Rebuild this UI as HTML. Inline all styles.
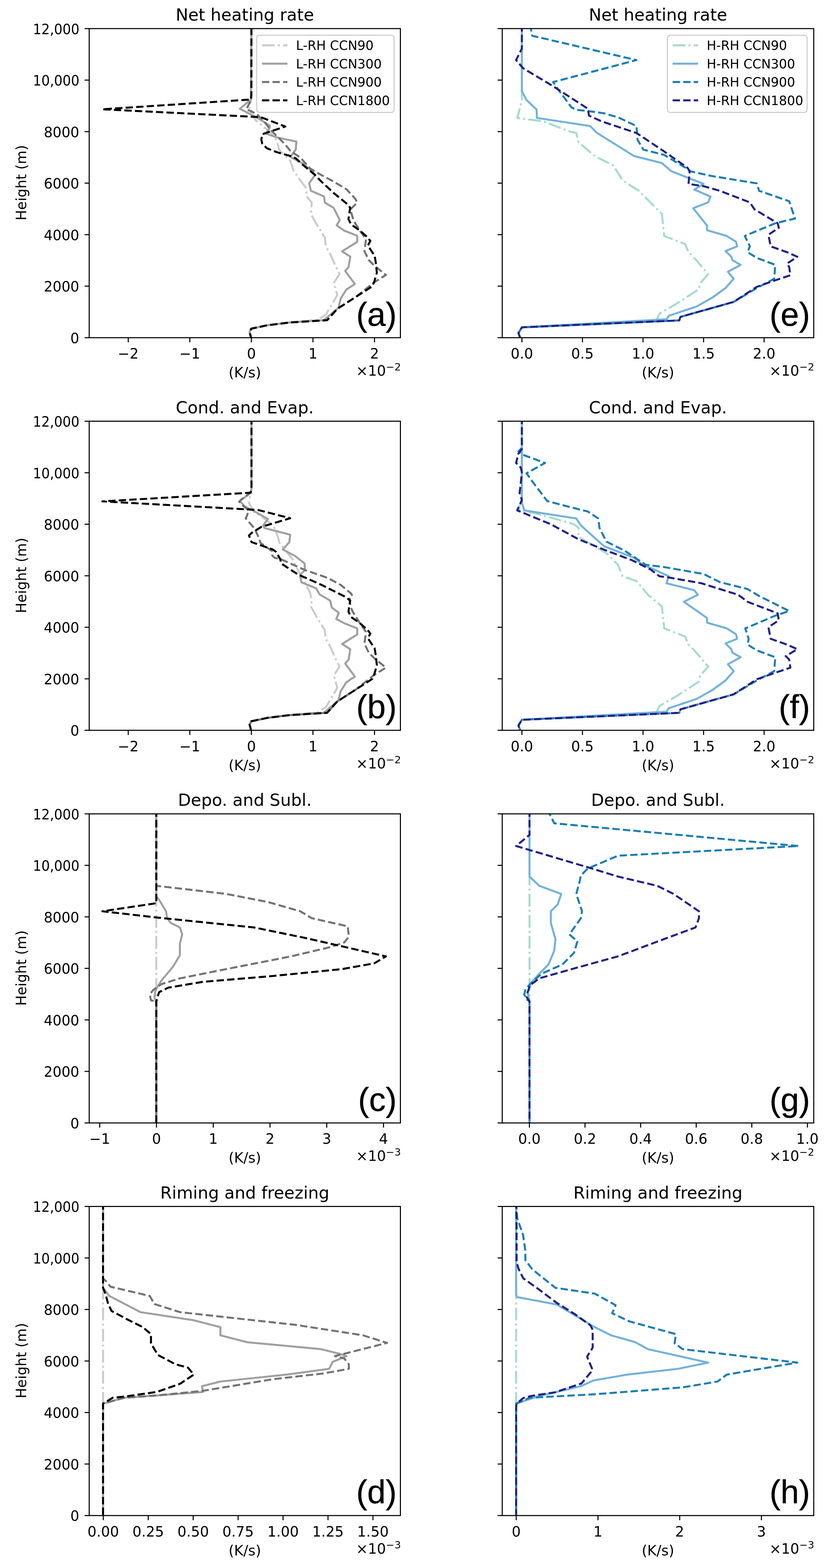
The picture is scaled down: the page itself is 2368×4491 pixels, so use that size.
<!DOCTYPE html>
<html><head><meta charset="utf-8"><title>Heating rate profiles</title>
<style>html,body{margin:0;padding:0;background:#fff;overflow:hidden;} svg{display:block;} text{font-family:'DejaVu Sans', 'Liberation Sans', sans-serif;fill:#000;}</style>
</head><body>
<svg width="2368" height="4491" viewBox="0 0 2368 4491">
<rect width="2368" height="4491" fill="#fff"/>
<g id="axa">
<clipPath id="clipa"><rect x="255.4" y="81.9" width="891.1" height="885.3"/></clipPath>
<g clip-path="url(#clipa)" fill="none" stroke-width="5.7" stroke-linejoin="round" stroke-linecap="butt">
<path d="M719.8,80.0 L719.5,285.0 L712.8,315.5 L731.9,344.2 L774.0,378.7 L793.2,403.6 L799.0,428.5 L831.5,461.0 L841.0,489.8 L862.6,520.0 L877.6,540.1 L877.6,562.6 L892.7,580.2 L890.2,612.7 L905.2,640.2 L930.2,680.3 L932.7,705.3 L946.3,729.2 L959.2,758.3 L972.2,784.3 L956.0,810.2 L965.7,845.8 L946.3,878.2 L933.3,900.9 L910.6,915.5 L829.6,923.6 L764.8,931.7 L719.4,941.4 L714.6,951.1 L717.8,962.5 L718.0,969.0" stroke="#cbcbcb" stroke-dasharray="36.5 9.1 5.7 9.1"/>
<path d="M719.8,80.0 L718.5,284.9 L686.9,311.7 L731.9,334.7 L751.0,346.2 L772.1,359.6 L772.0,367.2 L760.6,382.5 L795.0,394.0 L848.7,405.5 L846.8,428.5 L831.5,449.5 L870.0,470.0 L902.7,500.0 L885.2,525.1 L890.2,546.4 L927.7,562.6 L930.2,580.2 L955.3,595.2 L972.8,630.2 L964.0,645.2 L985.3,660.3 L1022.9,675.3 L1022.9,692.8 L979.5,720.0 L1003.0,735.0 L998.1,764.8 L988.4,776.1 L1016.0,813.4 L991.6,829.6 L975.4,855.5 L969.0,881.5 L946.3,900.9 L926.8,917.1 L829.6,923.6 L764.8,931.7 L719.4,941.4 L714.6,951.1 L717.8,962.5 L718.0,969.0" stroke="#a0a0a0"/>
<path d="M719.8,80.0 L719.5,285.0 L705.0,313.6 L716.6,317.4 L735.7,327.0 L754.9,346.2 L774.0,371.0 L793.2,390.2 L816.1,413.2 L831.5,432.3 L860.2,451.5 L887.7,482.5 L917.7,500.0 L955.3,520.0 L992.8,542.6 L1017.9,570.1 L1022.9,580.2 L1015.4,587.7 L1003.0,600.0 L1012.8,632.7 L1030.4,660.3 L1047.9,685.3 L1043.5,719.4 L1056.4,745.4 L1072.6,761.6 L1105.0,787.5 L1069.4,810.2 L1020.8,849.1 L965.7,884.7 L936.6,917.1 L829.6,923.6 L764.8,931.7 L719.4,941.4 L714.6,951.1 L717.8,962.5 L718.0,969.0" stroke="#737373" stroke-dasharray="21.1 9.1"/>
<path d="M719.8,80.0 L719.8,270.0 L718.5,285.0 L293.0,313.0 L747.0,335.6 L817.0,362.4 L751.0,384.4 L748.2,399.8 L751.0,411.3 L764.4,424.7 L793.2,436.1 L831.5,446.7 L846.8,453.4 L869.8,474.4 L900.0,499.3 L920.2,520.0 L955.3,552.6 L995.3,585.2 L1002.8,595.2 L999.1,617.7 L997.8,627.7 L1005.3,642.7 L1030.4,660.3 L1052.9,680.3 L1060.4,690.3 L1053.2,703.2 L1072.6,732.4 L1075.9,751.8 L1079.1,781.0 L1072.6,803.7 L1066.2,819.9 L1020.8,849.1 L965.7,884.7 L936.6,917.1 L829.6,923.6 L764.8,931.7 L719.4,941.4 L714.6,951.1 L717.8,962.5 L718.0,969.0" stroke="#000000" stroke-dasharray="21.1 9.1"/>
</g>
<rect x="255.4" y="81.9" width="891.1" height="885.3" fill="none" stroke="#000" stroke-width="3.0" stroke-linejoin="miter"/>
<line x1="255.4" y1="967.2" x2="242.1" y2="967.2" stroke="#000" stroke-width="3.0"/>
<text transform="translate(226.9,982.8) scale(0.985,1)" font-size="40.5" text-anchor="end">0</text>
<line x1="255.4" y1="819.6" x2="242.1" y2="819.6" stroke="#000" stroke-width="3.0"/>
<text transform="translate(226.9,835.2) scale(0.985,1)" font-size="40.5" text-anchor="end">2000</text>
<line x1="255.4" y1="672.1" x2="242.1" y2="672.1" stroke="#000" stroke-width="3.0"/>
<text transform="translate(226.9,687.7) scale(0.985,1)" font-size="40.5" text-anchor="end">4000</text>
<line x1="255.4" y1="524.5" x2="242.1" y2="524.5" stroke="#000" stroke-width="3.0"/>
<text transform="translate(226.9,540.1) scale(0.985,1)" font-size="40.5" text-anchor="end">6000</text>
<line x1="255.4" y1="377.0" x2="242.1" y2="377.0" stroke="#000" stroke-width="3.0"/>
<text transform="translate(226.9,392.6) scale(0.985,1)" font-size="40.5" text-anchor="end">8000</text>
<line x1="255.4" y1="229.4" x2="242.1" y2="229.4" stroke="#000" stroke-width="3.0"/>
<text transform="translate(227.4,245.0) scale(0.94,1)" font-size="40.5" text-anchor="end">10,000</text>
<line x1="255.4" y1="81.9" x2="242.1" y2="81.9" stroke="#000" stroke-width="3.0"/>
<text transform="translate(227.4,97.5) scale(0.94,1)" font-size="40.5" text-anchor="end">12,000</text>
<line x1="367.2" y1="967.2" x2="367.2" y2="980.5" stroke="#000" stroke-width="3.0"/>
<text x="367.2" y="1027.2" font-size="40.5" text-anchor="middle">−2</text>
<line x1="543.5" y1="967.2" x2="543.5" y2="980.5" stroke="#000" stroke-width="3.0"/>
<text x="543.5" y="1027.2" font-size="40.5" text-anchor="middle">−1</text>
<line x1="719.8" y1="967.2" x2="719.8" y2="980.5" stroke="#000" stroke-width="3.0"/>
<text x="719.8" y="1027.2" font-size="40.5" text-anchor="middle">0</text>
<line x1="896.1" y1="967.2" x2="896.1" y2="980.5" stroke="#000" stroke-width="3.0"/>
<text x="896.1" y="1027.2" font-size="40.5" text-anchor="middle">1</text>
<line x1="1072.4" y1="967.2" x2="1072.4" y2="980.5" stroke="#000" stroke-width="3.0"/>
<text x="1072.4" y="1027.2" font-size="40.5" text-anchor="middle">2</text>
<text x="1148.0" y="1076.2" font-size="40.5" text-anchor="end">×10<tspan font-size="29.2" dy="-15">−2</tspan></text>
<text x="701.0" y="1081.3" font-size="40.5" text-anchor="middle">(K/s)</text>
<text x="701.0" y="59.0" font-size="48.2" text-anchor="middle">Net heating rate</text>
<text transform="translate(74.9,523.5) rotate(-90)" font-size="40.2" text-anchor="middle">Height (m)</text>
<text x="1136.0" y="932.5" font-size="95" text-anchor="end" stroke="#000" stroke-width="0.6" style="font-family:'Liberation Sans', Arial, sans-serif">(a)</text>
<rect x="735" y="101" width="393.5" height="221" rx="7.6" fill="#fff" fill-opacity="0.8" stroke="#cccccc" stroke-width="3"/>
<line x1="750.0" y1="129.8" x2="823.0" y2="129.8" stroke="#cbcbcb" stroke-width="5.7" stroke-dasharray="36.5 9.1 5.7 9.1"/>
<text transform="translate(847.5,143.3) scale(0.962,1)" font-size="38" text-anchor="start">L-RH CCN90</text>
<line x1="750.0" y1="182.3" x2="823.0" y2="182.3" stroke="#a0a0a0" stroke-width="5.7"/>
<text transform="translate(847.5,195.8) scale(0.962,1)" font-size="38" text-anchor="start">L-RH CCN300</text>
<line x1="750.0" y1="234.8" x2="823.0" y2="234.8" stroke="#737373" stroke-width="5.7" stroke-dasharray="21.1 9.1"/>
<text transform="translate(847.5,248.3) scale(0.962,1)" font-size="38" text-anchor="start">L-RH CCN900</text>
<line x1="750.0" y1="287.3" x2="823.0" y2="287.3" stroke="#000000" stroke-width="5.7" stroke-dasharray="21.1 9.1"/>
<text transform="translate(847.5,300.8) scale(0.962,1)" font-size="38" text-anchor="start">L-RH CCN1800</text>
</g>
<g id="axb">
<clipPath id="clipb"><rect x="255.4" y="1206.4" width="891.1" height="885.3"/></clipPath>
<g clip-path="url(#clipb)" fill="none" stroke-width="5.7" stroke-linejoin="round" stroke-linecap="butt">
<path d="M720.1,1195.0 L720.1,1400.0 L717.8,1411.2 L715.4,1425.3 L713.0,1441.8 L729.5,1467.8 L762.5,1489.0 L783.7,1507.8 L795.5,1536.1 L800.2,1555.0 L837.9,1602.0 L845.0,1616.2 L856.8,1639.8 L877.6,1677.6 L887.6,1697.6 L892.6,1720.1 L890.2,1737.2 L905.2,1764.7 L930.2,1804.8 L932.7,1829.8 L946.3,1853.7 L959.2,1882.8 L972.2,1908.8 L956.0,1934.7 L965.7,1970.3 L946.3,2002.7 L933.3,2025.4 L910.6,2040.0 L829.6,2048.1 L764.8,2056.2 L719.4,2065.9 L714.6,2075.6 L717.8,2087.0 L718.0,2093.5" stroke="#cbcbcb" stroke-dasharray="36.5 9.1 5.7 9.1"/>
<path d="M720.1,1195.0 L720.1,1400.0 L717.8,1411.2 L687.1,1434.8 L698.9,1448.9 L734.2,1467.8 L767.2,1486.6 L753.1,1505.5 L757.8,1512.5 L830.9,1531.4 L828.5,1552.6 L809.7,1573.8 L845.0,1592.6 L872.1,1613.8 L873.3,1632.7 L859.1,1646.8 L862.6,1667.5 L905.2,1685.1 L915.2,1702.6 L945.2,1720.1 L950.2,1740.2 L970.3,1755.2 L962.7,1772.7 L985.3,1784.8 L1022.9,1799.8 L1022.9,1817.3 L979.5,1844.5 L1003.0,1859.5 L998.1,1889.3 L988.4,1900.6 L1016.0,1937.9 L991.6,1954.1 L975.4,1980.0 L969.0,2006.0 L946.3,2025.4 L926.8,2041.6 L829.6,2048.1 L764.8,2056.2 L719.4,2065.9 L714.6,2075.6 L717.8,2087.0 L718.0,2093.5" stroke="#a0a0a0"/>
<path d="M720.1,1195.0 L720.1,1400.0 L717.8,1411.2 L691.8,1430.0 L684.8,1437.1 L696.5,1448.9 L710.7,1460.7 L708.3,1474.8 L703.6,1484.3 L729.5,1514.9 L741.3,1540.8 L746.0,1555.0 L779.0,1578.5 L779.0,1590.3 L786.1,1597.4 L805.0,1602.0 L873.3,1632.7 L937.7,1655.0 L975.3,1675.0 L1005.3,1700.0 L1009.0,1706.3 L1000.0,1716.0 L1005.0,1740.0 L1010.0,1752.0 L1030.4,1784.8 L1047.9,1809.8 L1043.5,1843.9 L1056.4,1869.9 L1072.6,1886.1 L1105.0,1912.0 L1069.4,1934.7 L1020.8,1973.6 L965.7,2009.2 L936.6,2041.6 L829.6,2048.1 L764.8,2056.2 L719.4,2065.9 L714.6,2075.6 L717.8,2087.0 L718.0,2093.5" stroke="#737373" stroke-dasharray="21.1 9.1"/>
<path d="M720.1,1195.0 L720.1,1400.0 L717.8,1411.2 L293.0,1436.0 L739.0,1460.7 L830.9,1484.3 L748.4,1509.0 L720.1,1526.7 L713.0,1533.7 L720.1,1552.6 L781.4,1573.8 L790.8,1580.9 L802.6,1602.0 L805.0,1613.8 L852.6,1645.0 L920.2,1675.0 L985.3,1707.6 L1002.8,1719.7 L999.1,1742.2 L997.8,1752.2 L1005.3,1767.2 L1030.4,1784.8 L1052.9,1804.8 L1060.4,1814.8 L1053.2,1827.7 L1072.6,1856.9 L1075.9,1876.3 L1079.1,1905.5 L1072.6,1928.2 L1066.2,1944.4 L1020.8,1973.6 L965.7,2009.2 L936.6,2041.6 L829.6,2048.1 L764.8,2056.2 L719.4,2065.9 L714.6,2075.6 L717.8,2087.0 L718.0,2093.5" stroke="#000000" stroke-dasharray="21.1 9.1"/>
</g>
<rect x="255.4" y="1206.4" width="891.1" height="885.3" fill="none" stroke="#000" stroke-width="3.0" stroke-linejoin="miter"/>
<line x1="255.4" y1="2091.7" x2="242.1" y2="2091.7" stroke="#000" stroke-width="3.0"/>
<text transform="translate(226.9,2107.3) scale(0.985,1)" font-size="40.5" text-anchor="end">0</text>
<line x1="255.4" y1="1944.2" x2="242.1" y2="1944.2" stroke="#000" stroke-width="3.0"/>
<text transform="translate(226.9,1959.8) scale(0.985,1)" font-size="40.5" text-anchor="end">2000</text>
<line x1="255.4" y1="1796.6" x2="242.1" y2="1796.6" stroke="#000" stroke-width="3.0"/>
<text transform="translate(226.9,1812.2) scale(0.985,1)" font-size="40.5" text-anchor="end">4000</text>
<line x1="255.4" y1="1649.1" x2="242.1" y2="1649.1" stroke="#000" stroke-width="3.0"/>
<text transform="translate(226.9,1664.7) scale(0.985,1)" font-size="40.5" text-anchor="end">6000</text>
<line x1="255.4" y1="1501.5" x2="242.1" y2="1501.5" stroke="#000" stroke-width="3.0"/>
<text transform="translate(226.9,1517.1) scale(0.985,1)" font-size="40.5" text-anchor="end">8000</text>
<line x1="255.4" y1="1354.0" x2="242.1" y2="1354.0" stroke="#000" stroke-width="3.0"/>
<text transform="translate(227.4,1369.6) scale(0.94,1)" font-size="40.5" text-anchor="end">10,000</text>
<line x1="255.4" y1="1206.4" x2="242.1" y2="1206.4" stroke="#000" stroke-width="3.0"/>
<text transform="translate(227.4,1222.0) scale(0.94,1)" font-size="40.5" text-anchor="end">12,000</text>
<line x1="367.2" y1="2091.7" x2="367.2" y2="2105.0" stroke="#000" stroke-width="3.0"/>
<text x="367.2" y="2151.7" font-size="40.5" text-anchor="middle">−2</text>
<line x1="543.5" y1="2091.7" x2="543.5" y2="2105.0" stroke="#000" stroke-width="3.0"/>
<text x="543.5" y="2151.7" font-size="40.5" text-anchor="middle">−1</text>
<line x1="719.8" y1="2091.7" x2="719.8" y2="2105.0" stroke="#000" stroke-width="3.0"/>
<text x="719.8" y="2151.7" font-size="40.5" text-anchor="middle">0</text>
<line x1="896.1" y1="2091.7" x2="896.1" y2="2105.0" stroke="#000" stroke-width="3.0"/>
<text x="896.1" y="2151.7" font-size="40.5" text-anchor="middle">1</text>
<line x1="1072.4" y1="2091.7" x2="1072.4" y2="2105.0" stroke="#000" stroke-width="3.0"/>
<text x="1072.4" y="2151.7" font-size="40.5" text-anchor="middle">2</text>
<text x="1148.0" y="2200.7" font-size="40.5" text-anchor="end">×10<tspan font-size="29.2" dy="-15">−2</tspan></text>
<text x="701.0" y="2205.8" font-size="40.5" text-anchor="middle">(K/s)</text>
<text x="701.0" y="1183.5" font-size="48.2" text-anchor="middle">Cond. and Evap.</text>
<text transform="translate(74.9,1648.1) rotate(-90)" font-size="40.2" text-anchor="middle">Height (m)</text>
<text x="1136.0" y="2057.0" font-size="95" text-anchor="end" stroke="#000" stroke-width="0.6" style="font-family:'Liberation Sans', Arial, sans-serif">(b)</text>
</g>
<g id="axc">
<clipPath id="clipc"><rect x="255.4" y="2331.0" width="891.1" height="885.3"/></clipPath>
<g clip-path="url(#clipc)" fill="none" stroke-width="5.7" stroke-linejoin="round" stroke-linecap="butt">
<path d="M447.5,2318.4 L447.5,3219.7" stroke="#cbcbcb" stroke-dasharray="36.5 9.1 5.7 9.1"/>
<path d="M447.5,2318.4 L447.5,2566.9 L455.4,2576.8 L475.3,2610.0 L478.6,2629.9 L488.6,2643.1 L515.1,2656.4 L521.7,2676.3 L515.1,2702.8 L515.1,2735.9 L495.2,2769.0 L462.1,2808.8 L445.5,2835.3 L442.2,2855.2 L447.5,2875.1 L447.5,3219.7" stroke="#a0a0a0"/>
<path d="M447.5,2318.4 L447.5,2537.1 L647.6,2560.3 L766.9,2583.5 L859.7,2610.0 L892.9,2629.9 L995.6,2653.1 L998.9,2682.9 L985.6,2699.4 L945.9,2712.7 L833.2,2739.2 L647.6,2775.7 L515.1,2802.2 L462.1,2818.7 L438.9,2835.3 L428.9,2848.6 L432.3,2865.1 L447.5,2868.4 L447.5,3219.7" stroke="#737373" stroke-dasharray="21.1 9.1"/>
<path d="M447.5,2318.4 L447.5,2580.2 L448.8,2586.8 L293.1,2610.0 L448.8,2627.9 L727.2,2656.4 L873.0,2686.2 L1104.9,2739.2 L1071.8,2759.1 L979.0,2775.7 L780.2,2795.5 L581.4,2812.1 L482.0,2828.7 L455.4,2841.9 L447.5,2868.4 L447.5,3219.7" stroke="#000000" stroke-dasharray="21.1 9.1"/>
</g>
<rect x="255.4" y="2331.0" width="891.1" height="885.3" fill="none" stroke="#000" stroke-width="3.0" stroke-linejoin="miter"/>
<line x1="255.4" y1="3216.3" x2="242.1" y2="3216.3" stroke="#000" stroke-width="3.0"/>
<text transform="translate(226.9,3231.9) scale(0.985,1)" font-size="40.5" text-anchor="end">0</text>
<line x1="255.4" y1="3068.7" x2="242.1" y2="3068.7" stroke="#000" stroke-width="3.0"/>
<text transform="translate(226.9,3084.3) scale(0.985,1)" font-size="40.5" text-anchor="end">2000</text>
<line x1="255.4" y1="2921.2" x2="242.1" y2="2921.2" stroke="#000" stroke-width="3.0"/>
<text transform="translate(226.9,2936.8) scale(0.985,1)" font-size="40.5" text-anchor="end">4000</text>
<line x1="255.4" y1="2773.6" x2="242.1" y2="2773.6" stroke="#000" stroke-width="3.0"/>
<text transform="translate(226.9,2789.2) scale(0.985,1)" font-size="40.5" text-anchor="end">6000</text>
<line x1="255.4" y1="2626.1" x2="242.1" y2="2626.1" stroke="#000" stroke-width="3.0"/>
<text transform="translate(226.9,2641.7) scale(0.985,1)" font-size="40.5" text-anchor="end">8000</text>
<line x1="255.4" y1="2478.5" x2="242.1" y2="2478.5" stroke="#000" stroke-width="3.0"/>
<text transform="translate(227.4,2494.1) scale(0.94,1)" font-size="40.5" text-anchor="end">10,000</text>
<line x1="255.4" y1="2331.0" x2="242.1" y2="2331.0" stroke="#000" stroke-width="3.0"/>
<text transform="translate(227.4,2346.6) scale(0.94,1)" font-size="40.5" text-anchor="end">12,000</text>
<line x1="285.6" y1="3216.3" x2="285.6" y2="3229.6" stroke="#000" stroke-width="3.0"/>
<text x="285.6" y="3276.3" font-size="40.5" text-anchor="middle">−1</text>
<line x1="448.1" y1="3216.3" x2="448.1" y2="3229.6" stroke="#000" stroke-width="3.0"/>
<text x="448.1" y="3276.3" font-size="40.5" text-anchor="middle">0</text>
<line x1="610.6" y1="3216.3" x2="610.6" y2="3229.6" stroke="#000" stroke-width="3.0"/>
<text x="610.6" y="3276.3" font-size="40.5" text-anchor="middle">1</text>
<line x1="773.1" y1="3216.3" x2="773.1" y2="3229.6" stroke="#000" stroke-width="3.0"/>
<text x="773.1" y="3276.3" font-size="40.5" text-anchor="middle">2</text>
<line x1="935.6" y1="3216.3" x2="935.6" y2="3229.6" stroke="#000" stroke-width="3.0"/>
<text x="935.6" y="3276.3" font-size="40.5" text-anchor="middle">3</text>
<line x1="1098.1" y1="3216.3" x2="1098.1" y2="3229.6" stroke="#000" stroke-width="3.0"/>
<text x="1098.1" y="3276.3" font-size="40.5" text-anchor="middle">4</text>
<text x="1148.0" y="3325.3" font-size="40.5" text-anchor="end">×10<tspan font-size="29.2" dy="-15">−3</tspan></text>
<text x="701.0" y="3330.4" font-size="40.5" text-anchor="middle">(K/s)</text>
<text x="701.0" y="2308.1" font-size="48.2" text-anchor="middle">Depo. and Subl.</text>
<text transform="translate(74.9,2772.6) rotate(-90)" font-size="40.2" text-anchor="middle">Height (m)</text>
<text x="1136.0" y="3181.6" font-size="95" text-anchor="end" stroke="#000" stroke-width="0.6" style="font-family:'Liberation Sans', Arial, sans-serif">(c)</text>
</g>
<g id="axd">
<clipPath id="clipd"><rect x="255.4" y="3455.5" width="891.1" height="885.3"/></clipPath>
<g clip-path="url(#clipd)" fill="none" stroke-width="5.7" stroke-linejoin="round" stroke-linecap="butt">
<path d="M295.1,3443.4 L295.1,4344.7" stroke="#cbcbcb" stroke-dasharray="36.5 9.1 5.7 9.1"/>
<path d="M295.1,3443.4 L295.1,3688.6 L313.0,3711.8 L402.4,3758.2 L554.9,3781.4 L631.1,3801.3 L631.1,3824.4 L707.3,3844.3 L919.4,3864.2 L972.4,3877.5 L992.3,3884.1 L952.5,3900.7 L942.6,3920.5 L820.0,3937.1 L631.1,3957.0 L578.1,3970.3 L581.4,3986.8 L448.8,3996.8 L356.0,4003.4 L295.1,4020.0 L295.1,4344.7" stroke="#a0a0a0"/>
<path d="M295.1,3443.4 L295.1,3662.1 L303.0,3668.7 L316.3,3685.3 L428.9,3711.8 L442.2,3735.0 L515.1,3758.2 L846.5,3794.6 L1038.7,3824.4 L1108.2,3846.3 L959.1,3884.1 L985.6,3890.7 L998.9,3907.3 L998.9,3920.5 L926.0,3933.8 L780.2,3950.4 L581.4,3983.5 L448.8,3996.8 L356.0,4003.4 L295.1,4020.0 L295.1,4344.7" stroke="#737373" stroke-dasharray="21.1 9.1"/>
<path d="M295.1,3443.4 L295.1,3688.6 L303.0,3708.5 L309.6,3735.0 L319.6,3754.9 L369.3,3781.4 L409.1,3801.3 L432.3,3821.1 L432.3,3847.6 L452.1,3880.8 L501.8,3907.3 L538.3,3917.2 L554.9,3937.1 L515.1,3963.6 L448.8,3986.8 L356.0,4000.1 L322.9,4003.4 L295.1,4020.0 L295.1,4344.7" stroke="#000000" stroke-dasharray="21.1 9.1"/>
</g>
<rect x="255.4" y="3455.5" width="891.1" height="885.3" fill="none" stroke="#000" stroke-width="3.0" stroke-linejoin="miter"/>
<line x1="255.4" y1="4340.8" x2="242.1" y2="4340.8" stroke="#000" stroke-width="3.0"/>
<text transform="translate(226.9,4356.4) scale(0.985,1)" font-size="40.5" text-anchor="end">0</text>
<line x1="255.4" y1="4193.2" x2="242.1" y2="4193.2" stroke="#000" stroke-width="3.0"/>
<text transform="translate(226.9,4208.8) scale(0.985,1)" font-size="40.5" text-anchor="end">2000</text>
<line x1="255.4" y1="4045.7" x2="242.1" y2="4045.7" stroke="#000" stroke-width="3.0"/>
<text transform="translate(226.9,4061.3) scale(0.985,1)" font-size="40.5" text-anchor="end">4000</text>
<line x1="255.4" y1="3898.1" x2="242.1" y2="3898.1" stroke="#000" stroke-width="3.0"/>
<text transform="translate(226.9,3913.7) scale(0.985,1)" font-size="40.5" text-anchor="end">6000</text>
<line x1="255.4" y1="3750.6" x2="242.1" y2="3750.6" stroke="#000" stroke-width="3.0"/>
<text transform="translate(226.9,3766.2) scale(0.985,1)" font-size="40.5" text-anchor="end">8000</text>
<line x1="255.4" y1="3603.0" x2="242.1" y2="3603.0" stroke="#000" stroke-width="3.0"/>
<text transform="translate(227.4,3618.6) scale(0.94,1)" font-size="40.5" text-anchor="end">10,000</text>
<line x1="255.4" y1="3455.5" x2="242.1" y2="3455.5" stroke="#000" stroke-width="3.0"/>
<text transform="translate(227.4,3471.1) scale(0.94,1)" font-size="40.5" text-anchor="end">12,000</text>
<line x1="295.7" y1="4340.8" x2="295.7" y2="4354.1" stroke="#000" stroke-width="3.0"/>
<text x="295.7" y="4400.8" font-size="40.5" text-anchor="middle">0.00</text>
<line x1="424.4" y1="4340.8" x2="424.4" y2="4354.1" stroke="#000" stroke-width="3.0"/>
<text x="424.4" y="4400.8" font-size="40.5" text-anchor="middle">0.25</text>
<line x1="553.1" y1="4340.8" x2="553.1" y2="4354.1" stroke="#000" stroke-width="3.0"/>
<text x="553.1" y="4400.8" font-size="40.5" text-anchor="middle">0.50</text>
<line x1="681.8" y1="4340.8" x2="681.8" y2="4354.1" stroke="#000" stroke-width="3.0"/>
<text x="681.8" y="4400.8" font-size="40.5" text-anchor="middle">0.75</text>
<line x1="810.5" y1="4340.8" x2="810.5" y2="4354.1" stroke="#000" stroke-width="3.0"/>
<text x="810.5" y="4400.8" font-size="40.5" text-anchor="middle">1.00</text>
<line x1="939.2" y1="4340.8" x2="939.2" y2="4354.1" stroke="#000" stroke-width="3.0"/>
<text x="939.2" y="4400.8" font-size="40.5" text-anchor="middle">1.25</text>
<line x1="1067.9" y1="4340.8" x2="1067.9" y2="4354.1" stroke="#000" stroke-width="3.0"/>
<text x="1067.9" y="4400.8" font-size="40.5" text-anchor="middle">1.50</text>
<text x="1148.0" y="4449.8" font-size="40.5" text-anchor="end">×10<tspan font-size="29.2" dy="-15">−3</tspan></text>
<text x="701.0" y="4454.9" font-size="40.5" text-anchor="middle">(K/s)</text>
<text x="701.0" y="3432.6" font-size="48.2" text-anchor="middle">Riming and freezing</text>
<text transform="translate(74.9,3897.1) rotate(-90)" font-size="40.2" text-anchor="middle">Height (m)</text>
<text x="1136.0" y="4306.1" font-size="95" text-anchor="end" stroke="#000" stroke-width="0.6" style="font-family:'Liberation Sans', Arial, sans-serif">(d)</text>
</g>
<g id="axe">
<clipPath id="clipe"><rect x="1438.1" y="81.9" width="891.9" height="885.3"/></clipPath>
<g clip-path="url(#clipe)" fill="none" stroke-width="5.7" stroke-linejoin="round" stroke-linecap="butt">
<path d="M1494.3,69.4 L1494.3,288.1 L1481.1,337.8 L1557.3,347.7 L1623.6,374.2 L1650.1,380.9 L1656.7,407.4 L1703.1,447.1 L1756.1,473.6 L1782.6,516.7 L1829.0,546.5 L1895.3,612.8 L1901.9,675.8 L1961.6,699.0 L1971.5,722.2 L1988.1,738.7 L2027.8,785.1 L2004.6,811.6 L2001.3,828.2 L1935.1,871.3 L1888.7,897.8 L1878.7,917.7 L1494.3,937.6 L1484.4,954.1 L1491.0,970.7" stroke="#a5dccb" stroke-dasharray="36.5 9.1 5.7 9.1"/>
<path d="M1494.3,69.4 L1494.3,261.6 L1507.8,286.6 L1536.5,313.7 L1537.4,337.8 L1689.8,361.0 L1709.7,380.9 L1815.8,447.1 L1895.3,467.0 L1921.8,490.2 L2014.6,526.7 L1988.1,543.2 L2034.5,563.1 L2027.8,579.7 L1984.8,596.3 L2024.5,646.0 L2024.5,659.2 L2080.9,675.8 L2107.4,692.3 L2110.7,705.6 L2077.5,718.9 L2094.1,735.4 L2097.4,745.4 L2120.6,758.6 L2084.2,778.5 L2100.7,798.4 L2077.5,824.9 L2041.1,851.4 L1994.7,877.9 L1915.2,904.4 L1908.5,914.4 L1494.3,937.6 L1484.4,954.1 L1491.0,970.7" stroke="#72b2dc"/>
<path d="M1517.5,69.4 L1524.2,102.5 L1822.4,172.1 L1583.8,235.1 L1597.1,254.9 L1636.8,308.0 L1650.1,314.6 L1683.2,317.9 L1729.6,324.5 L1769.4,335.8 L1822.4,361.0 L1825.7,400.7 L1842.3,428.6 L1901.9,443.8 L1968.2,483.6 L1974.8,490.2 L2034.5,503.5 L2167.0,525.3 L2173.6,546.5 L2259.8,576.4 L2276.4,626.1 L2220.0,639.3 L2132.6,675.8 L2147.1,705.6 L2140.5,722.2 L2167.0,738.7 L2220.0,758.6 L2216.7,798.4 L2167.0,824.9 L2100.7,864.7 L1948.3,907.7 L1945.0,917.7 L1494.3,937.6 L1484.4,954.1 L1491.0,970.7" stroke="#1a7db5" stroke-dasharray="21.1 9.1"/>
<path d="M1494.3,69.4 L1494.3,139.0 L1477.8,172.1 L1497.6,195.3 L1580.5,245.0 L1683.2,311.3 L1686.5,331.2 L1723.0,347.7 L1822.4,380.9 L1901.9,433.9 L1968.2,480.3 L1974.8,490.2 L1971.5,526.7 L2014.6,533.3 L2061.0,546.5 L2147.1,579.7 L2160.4,599.6 L2226.7,639.3 L2230.0,652.6 L2200.2,672.5 L2206.8,705.6 L2253.2,722.2 L2283.0,735.4 L2253.2,755.3 L2259.8,765.2 L2263.1,788.4 L2213.4,805.0 L2167.0,821.6 L2100.7,864.7 L1948.3,907.7 L1945.0,917.7 L1494.3,937.6 L1484.4,954.1 L1491.0,970.7" stroke="#1f2088" stroke-dasharray="21.1 9.1"/>
</g>
<rect x="1438.1" y="81.9" width="891.9" height="885.3" fill="none" stroke="#000" stroke-width="3.0" stroke-linejoin="miter"/>
<line x1="1438.1" y1="967.2" x2="1424.8" y2="967.2" stroke="#000" stroke-width="3.0"/>
<line x1="1438.1" y1="819.6" x2="1424.8" y2="819.6" stroke="#000" stroke-width="3.0"/>
<line x1="1438.1" y1="672.1" x2="1424.8" y2="672.1" stroke="#000" stroke-width="3.0"/>
<line x1="1438.1" y1="524.5" x2="1424.8" y2="524.5" stroke="#000" stroke-width="3.0"/>
<line x1="1438.1" y1="377.0" x2="1424.8" y2="377.0" stroke="#000" stroke-width="3.0"/>
<line x1="1438.1" y1="229.4" x2="1424.8" y2="229.4" stroke="#000" stroke-width="3.0"/>
<line x1="1438.1" y1="81.9" x2="1424.8" y2="81.9" stroke="#000" stroke-width="3.0"/>
<line x1="1494.4" y1="967.2" x2="1494.4" y2="980.5" stroke="#000" stroke-width="3.0"/>
<text x="1494.4" y="1027.2" font-size="40.5" text-anchor="middle">0.0</text>
<line x1="1667.8" y1="967.2" x2="1667.8" y2="980.5" stroke="#000" stroke-width="3.0"/>
<text x="1667.8" y="1027.2" font-size="40.5" text-anchor="middle">0.5</text>
<line x1="1841.2" y1="967.2" x2="1841.2" y2="980.5" stroke="#000" stroke-width="3.0"/>
<text x="1841.2" y="1027.2" font-size="40.5" text-anchor="middle">1.0</text>
<line x1="2014.6" y1="967.2" x2="2014.6" y2="980.5" stroke="#000" stroke-width="3.0"/>
<text x="2014.6" y="1027.2" font-size="40.5" text-anchor="middle">1.5</text>
<line x1="2188.0" y1="967.2" x2="2188.0" y2="980.5" stroke="#000" stroke-width="3.0"/>
<text x="2188.0" y="1027.2" font-size="40.5" text-anchor="middle">2.0</text>
<text x="2331.5" y="1076.2" font-size="40.5" text-anchor="end">×10<tspan font-size="29.2" dy="-15">−2</tspan></text>
<text x="1884.0" y="1081.3" font-size="40.5" text-anchor="middle">(K/s)</text>
<text x="1884.0" y="59.0" font-size="48.2" text-anchor="middle">Net heating rate</text>
<text x="2319.5" y="932.5" font-size="95" text-anchor="end" stroke="#000" stroke-width="0.6" style="font-family:'Liberation Sans', Arial, sans-serif">(e)</text>
<rect x="1911" y="101" width="400" height="221" rx="7.6" fill="#fff" fill-opacity="0.8" stroke="#cccccc" stroke-width="3"/>
<line x1="1926.0" y1="129.8" x2="1999.0" y2="129.8" stroke="#a5dccb" stroke-width="5.7" stroke-dasharray="36.5 9.1 5.7 9.1"/>
<text transform="translate(2023.5,143.3) scale(0.962,1)" font-size="38" text-anchor="start">H-RH CCN90</text>
<line x1="1926.0" y1="182.3" x2="1999.0" y2="182.3" stroke="#72b2dc" stroke-width="5.7"/>
<text transform="translate(2023.5,195.8) scale(0.962,1)" font-size="38" text-anchor="start">H-RH CCN300</text>
<line x1="1926.0" y1="234.8" x2="1999.0" y2="234.8" stroke="#1a7db5" stroke-width="5.7" stroke-dasharray="21.1 9.1"/>
<text transform="translate(2023.5,248.3) scale(0.962,1)" font-size="38" text-anchor="start">H-RH CCN900</text>
<line x1="1926.0" y1="287.3" x2="1999.0" y2="287.3" stroke="#1f2088" stroke-width="5.7" stroke-dasharray="21.1 9.1"/>
<text transform="translate(2023.5,300.8) scale(0.962,1)" font-size="38" text-anchor="start">H-RH CCN1800</text>
</g>
<g id="axf">
<clipPath id="clipf"><rect x="1438.1" y="1206.4" width="891.9" height="885.3"/></clipPath>
<g clip-path="url(#clipf)" fill="none" stroke-width="5.7" stroke-linejoin="round" stroke-linecap="butt">
<path d="M1494.3,1193.4 L1494.3,1438.6 L1481.1,1458.5 L1537.4,1471.7 L1610.3,1491.6 L1643.4,1501.5 L1656.7,1511.5 L1656.7,1538.0 L1703.1,1564.5 L1736.2,1584.4 L1769.4,1617.5 L1782.6,1650.7 L1822.4,1663.9 L1855.5,1703.7 L1895.3,1736.8 L1901.9,1799.8 L1961.6,1823.0 L1971.5,1846.2 L1988.1,1862.7 L2027.8,1909.1 L2004.6,1935.6 L2001.3,1952.2 L1935.1,1995.3 L1888.7,2021.8 L1878.7,2041.7 L1494.3,2061.6 L1484.4,2078.1 L1491.0,2094.7" stroke="#a5dccb" stroke-dasharray="36.5 9.1 5.7 9.1"/>
<path d="M1494.3,1193.4 L1494.3,1438.6 L1501.0,1461.8 L1650.1,1485.0 L1663.3,1504.9 L1729.6,1564.5 L1815.8,1597.6 L1835.6,1614.2 L1915.2,1650.7 L1908.5,1670.5 L1988.1,1690.4 L1998.0,1703.7 L1958.3,1723.6 L2024.5,1770.0 L2024.5,1783.2 L2080.9,1799.8 L2107.4,1816.3 L2110.7,1829.6 L2077.5,1842.9 L2094.1,1859.4 L2097.4,1869.4 L2120.6,1882.6 L2084.2,1902.5 L2100.7,1922.4 L2077.5,1948.9 L2041.1,1975.4 L1994.7,2001.9 L1915.2,2028.4 L1908.5,2038.4 L1494.3,2061.6 L1484.4,2078.1 L1491.0,2094.7" stroke="#72b2dc"/>
<path d="M1494.3,1193.4 L1494.3,1282.8 L1484.4,1292.8 L1497.6,1302.7 L1560.6,1325.9 L1507.6,1355.7 L1534.1,1392.2 L1567.2,1435.3 L1630.2,1451.8 L1683.2,1465.1 L1713.0,1485.0 L1716.4,1511.5 L1736.2,1551.3 L1789.3,1577.8 L1829.0,1604.3 L1848.9,1617.5 L1901.9,1624.2 L2014.6,1644.0 L2061.0,1667.2 L2140.5,1687.1 L2173.6,1707.0 L2259.8,1750.1 L2220.0,1763.3 L2133.9,1799.8 L2143.8,1829.6 L2140.5,1846.2 L2167.0,1862.7 L2220.0,1882.6 L2216.7,1922.4 L2167.0,1948.9 L2100.7,1988.7 L1948.3,2031.7 L1945.0,2041.7 L1494.3,2061.6 L1484.4,2078.1 L1491.0,2094.7" stroke="#1a7db5" stroke-dasharray="21.1 9.1"/>
<path d="M1494.3,1193.4 L1494.3,1286.2 L1484.4,1299.4 L1477.8,1325.9 L1491.0,1339.2 L1494.3,1352.4 L1491.0,1385.6 L1487.7,1412.1 L1494.3,1432.0 L1481.1,1461.8 L1577.2,1501.5 L1656.7,1544.6 L1729.6,1574.4 L1809.1,1604.3 L1862.2,1630.8 L1888.7,1650.7 L1915.2,1654.0 L2008.0,1670.5 L2114.0,1703.7 L2140.5,1723.6 L2226.7,1756.7 L2230.0,1776.6 L2200.2,1796.5 L2206.8,1829.6 L2253.2,1846.2 L2283.0,1859.4 L2249.9,1879.3 L2259.8,1889.2 L2263.1,1912.4 L2213.4,1929.0 L2167.0,1945.6 L2100.7,1988.7 L1948.3,2031.7 L1945.0,2041.7 L1494.3,2061.6 L1484.4,2078.1 L1491.0,2094.7" stroke="#1f2088" stroke-dasharray="21.1 9.1"/>
</g>
<rect x="1438.1" y="1206.4" width="891.9" height="885.3" fill="none" stroke="#000" stroke-width="3.0" stroke-linejoin="miter"/>
<line x1="1438.1" y1="2091.7" x2="1424.8" y2="2091.7" stroke="#000" stroke-width="3.0"/>
<line x1="1438.1" y1="1944.2" x2="1424.8" y2="1944.2" stroke="#000" stroke-width="3.0"/>
<line x1="1438.1" y1="1796.6" x2="1424.8" y2="1796.6" stroke="#000" stroke-width="3.0"/>
<line x1="1438.1" y1="1649.1" x2="1424.8" y2="1649.1" stroke="#000" stroke-width="3.0"/>
<line x1="1438.1" y1="1501.5" x2="1424.8" y2="1501.5" stroke="#000" stroke-width="3.0"/>
<line x1="1438.1" y1="1354.0" x2="1424.8" y2="1354.0" stroke="#000" stroke-width="3.0"/>
<line x1="1438.1" y1="1206.4" x2="1424.8" y2="1206.4" stroke="#000" stroke-width="3.0"/>
<line x1="1494.4" y1="2091.7" x2="1494.4" y2="2105.0" stroke="#000" stroke-width="3.0"/>
<text x="1494.4" y="2151.7" font-size="40.5" text-anchor="middle">0.0</text>
<line x1="1667.8" y1="2091.7" x2="1667.8" y2="2105.0" stroke="#000" stroke-width="3.0"/>
<text x="1667.8" y="2151.7" font-size="40.5" text-anchor="middle">0.5</text>
<line x1="1841.2" y1="2091.7" x2="1841.2" y2="2105.0" stroke="#000" stroke-width="3.0"/>
<text x="1841.2" y="2151.7" font-size="40.5" text-anchor="middle">1.0</text>
<line x1="2014.6" y1="2091.7" x2="2014.6" y2="2105.0" stroke="#000" stroke-width="3.0"/>
<text x="2014.6" y="2151.7" font-size="40.5" text-anchor="middle">1.5</text>
<line x1="2188.0" y1="2091.7" x2="2188.0" y2="2105.0" stroke="#000" stroke-width="3.0"/>
<text x="2188.0" y="2151.7" font-size="40.5" text-anchor="middle">2.0</text>
<text x="2331.5" y="2200.7" font-size="40.5" text-anchor="end">×10<tspan font-size="29.2" dy="-15">−2</tspan></text>
<text x="1884.0" y="2205.8" font-size="40.5" text-anchor="middle">(K/s)</text>
<text x="1884.0" y="1183.5" font-size="48.2" text-anchor="middle">Cond. and Evap.</text>
<text x="2319.5" y="2057.0" font-size="95" text-anchor="end" stroke="#000" stroke-width="0.6" style="font-family:'Liberation Sans', Arial, sans-serif">(f)</text>
</g>
<g id="axg">
<clipPath id="clipg"><rect x="1438.1" y="2331.0" width="891.9" height="885.3"/></clipPath>
<g clip-path="url(#clipg)" fill="none" stroke-width="5.7" stroke-linejoin="round" stroke-linecap="butt">
<path d="M1516.2,2318.4 L1516.2,3219.7" stroke="#a5dccb" stroke-dasharray="36.5 9.1 5.7 9.1"/>
<path d="M1516.2,2318.4 L1516.2,2510.6 L1544.0,2537.1 L1607.0,2560.3 L1597.1,2590.1 L1577.2,2610.0 L1577.2,2643.1 L1590.4,2689.5 L1587.1,2722.6 L1570.5,2762.4 L1544.0,2788.9 L1520.8,2815.4 L1510.9,2841.9 L1516.2,2868.4 L1516.2,3219.7" stroke="#72b2dc"/>
<path d="M1567.2,2318.4 L1587.1,2358.1 L2286.3,2423.1 L1769.4,2450.9 L1683.2,2487.4 L1663.3,2507.3 L1660.0,2523.8 L1650.1,2560.3 L1666.6,2610.0 L1663.3,2629.9 L1630.2,2676.3 L1653.4,2696.1 L1643.4,2729.3 L1610.3,2762.4 L1550.7,2788.9 L1517.5,2818.7 L1504.3,2835.3 L1501.0,2848.6 L1507.6,2861.8 L1516.2,2868.4 L1516.2,3219.7" stroke="#1a7db5" stroke-dasharray="21.1 9.1"/>
<path d="M1516.2,2318.4 L1516.2,2391.3 L1477.8,2423.1 L1683.2,2484.1 L1769.4,2510.6 L1882.0,2537.1 L1928.4,2560.3 L2001.3,2610.0 L2001.3,2629.9 L1991.4,2656.4 L1901.9,2689.5 L1769.4,2739.2 L1636.8,2775.7 L1544.0,2802.2 L1517.5,2822.1 L1510.9,2841.9 L1507.6,2855.2 L1516.2,2868.4 L1516.2,3219.7" stroke="#1f2088" stroke-dasharray="21.1 9.1"/>
</g>
<rect x="1438.1" y="2331.0" width="891.9" height="885.3" fill="none" stroke="#000" stroke-width="3.0" stroke-linejoin="miter"/>
<line x1="1438.1" y1="3216.3" x2="1424.8" y2="3216.3" stroke="#000" stroke-width="3.0"/>
<line x1="1438.1" y1="3068.7" x2="1424.8" y2="3068.7" stroke="#000" stroke-width="3.0"/>
<line x1="1438.1" y1="2921.2" x2="1424.8" y2="2921.2" stroke="#000" stroke-width="3.0"/>
<line x1="1438.1" y1="2773.6" x2="1424.8" y2="2773.6" stroke="#000" stroke-width="3.0"/>
<line x1="1438.1" y1="2626.1" x2="1424.8" y2="2626.1" stroke="#000" stroke-width="3.0"/>
<line x1="1438.1" y1="2478.5" x2="1424.8" y2="2478.5" stroke="#000" stroke-width="3.0"/>
<line x1="1438.1" y1="2331.0" x2="1424.8" y2="2331.0" stroke="#000" stroke-width="3.0"/>
<line x1="1515.9" y1="3216.3" x2="1515.9" y2="3229.6" stroke="#000" stroke-width="3.0"/>
<text x="1515.9" y="3276.3" font-size="40.5" text-anchor="middle">0.0</text>
<line x1="1675.1" y1="3216.3" x2="1675.1" y2="3229.6" stroke="#000" stroke-width="3.0"/>
<text x="1675.1" y="3276.3" font-size="40.5" text-anchor="middle">0.2</text>
<line x1="1834.3" y1="3216.3" x2="1834.3" y2="3229.6" stroke="#000" stroke-width="3.0"/>
<text x="1834.3" y="3276.3" font-size="40.5" text-anchor="middle">0.4</text>
<line x1="1993.5" y1="3216.3" x2="1993.5" y2="3229.6" stroke="#000" stroke-width="3.0"/>
<text x="1993.5" y="3276.3" font-size="40.5" text-anchor="middle">0.6</text>
<line x1="2152.7" y1="3216.3" x2="2152.7" y2="3229.6" stroke="#000" stroke-width="3.0"/>
<text x="2152.7" y="3276.3" font-size="40.5" text-anchor="middle">0.8</text>
<line x1="2311.9" y1="3216.3" x2="2311.9" y2="3229.6" stroke="#000" stroke-width="3.0"/>
<text x="2311.9" y="3276.3" font-size="40.5" text-anchor="middle">1.0</text>
<text x="2331.5" y="3325.3" font-size="40.5" text-anchor="end">×10<tspan font-size="29.2" dy="-15">−2</tspan></text>
<text x="1884.0" y="3330.4" font-size="40.5" text-anchor="middle">(K/s)</text>
<text x="1884.0" y="2308.1" font-size="48.2" text-anchor="middle">Depo. and Subl.</text>
<text x="2319.5" y="3181.6" font-size="95" text-anchor="end" stroke="#000" stroke-width="0.6" style="font-family:'Liberation Sans', Arial, sans-serif">(g)</text>
</g>
<g id="axh">
<clipPath id="cliph"><rect x="1438.1" y="3455.5" width="891.9" height="885.3"/></clipPath>
<g clip-path="url(#cliph)" fill="none" stroke-width="5.7" stroke-linejoin="round" stroke-linecap="butt">
<path d="M1477.8,3443.4 L1477.8,4344.7" stroke="#a5dccb" stroke-dasharray="36.5 9.1 5.7 9.1"/>
<path d="M1477.8,3443.4 L1477.8,3708.5 L1481.1,3715.1 L1593.7,3736.3 L1636.8,3761.5 L1696.5,3797.9 L1749.5,3824.4 L1819.1,3844.3 L1855.5,3864.2 L2027.8,3902.7 L1941.7,3920.5 L1795.9,3937.1 L1699.8,3953.7 L1663.3,3970.3 L1537.4,4000.1 L1477.8,4020.0 L1477.8,4344.7" stroke="#72b2dc"/>
<path d="M1477.8,3443.4 L1481.1,3489.8 L1497.6,3536.2 L1504.3,3582.5 L1504.3,3609.1 L1524.2,3635.6 L1590.4,3688.6 L1703.1,3705.2 L1762.7,3738.3 L1752.8,3761.5 L1802.5,3784.7 L1935.1,3821.1 L1931.7,3847.6 L1954.9,3864.2 L2283.0,3902.7 L2080.9,3937.1 L2054.3,3957.0 L1954.9,3973.6 L1703.1,3993.4 L1517.5,4003.4 L1477.8,4020.0 L1477.8,4344.7" stroke="#1a7db5" stroke-dasharray="21.1 9.1"/>
<path d="M1477.9,3440.0 L1477.9,3450.0 L1479.2,3514.0 L1479.2,3616.6 L1485.6,3635.8 L1498.4,3661.4 L1543.3,3693.4 L1594.5,3731.9 L1645.8,3763.9 L1690.6,3795.9 L1697.0,3808.7 L1697.0,3860.0 L1681.0,3885.6 L1697.0,3924.0 L1665.0,3962.5 L1588.1,3988.1 L1524.1,3997.7 L1498.4,4004.1 L1479.2,4020.1 L1477.9,4030.0 L1477.9,4350.0" stroke="#1f2088" stroke-dasharray="21.1 9.1"/>
</g>
<rect x="1438.1" y="3455.5" width="891.9" height="885.3" fill="none" stroke="#000" stroke-width="3.0" stroke-linejoin="miter"/>
<line x1="1438.1" y1="4340.8" x2="1424.8" y2="4340.8" stroke="#000" stroke-width="3.0"/>
<line x1="1438.1" y1="4193.2" x2="1424.8" y2="4193.2" stroke="#000" stroke-width="3.0"/>
<line x1="1438.1" y1="4045.7" x2="1424.8" y2="4045.7" stroke="#000" stroke-width="3.0"/>
<line x1="1438.1" y1="3898.1" x2="1424.8" y2="3898.1" stroke="#000" stroke-width="3.0"/>
<line x1="1438.1" y1="3750.6" x2="1424.8" y2="3750.6" stroke="#000" stroke-width="3.0"/>
<line x1="1438.1" y1="3603.0" x2="1424.8" y2="3603.0" stroke="#000" stroke-width="3.0"/>
<line x1="1438.1" y1="3455.5" x2="1424.8" y2="3455.5" stroke="#000" stroke-width="3.0"/>
<line x1="1478.2" y1="4340.8" x2="1478.2" y2="4354.1" stroke="#000" stroke-width="3.0"/>
<text x="1478.2" y="4400.8" font-size="40.5" text-anchor="middle">0</text>
<line x1="1712.2" y1="4340.8" x2="1712.2" y2="4354.1" stroke="#000" stroke-width="3.0"/>
<text x="1712.2" y="4400.8" font-size="40.5" text-anchor="middle">1</text>
<line x1="1946.2" y1="4340.8" x2="1946.2" y2="4354.1" stroke="#000" stroke-width="3.0"/>
<text x="1946.2" y="4400.8" font-size="40.5" text-anchor="middle">2</text>
<line x1="2180.2" y1="4340.8" x2="2180.2" y2="4354.1" stroke="#000" stroke-width="3.0"/>
<text x="2180.2" y="4400.8" font-size="40.5" text-anchor="middle">3</text>
<text x="2331.5" y="4449.8" font-size="40.5" text-anchor="end">×10<tspan font-size="29.2" dy="-15">−3</tspan></text>
<text x="1884.0" y="4454.9" font-size="40.5" text-anchor="middle">(K/s)</text>
<text x="1884.0" y="3432.6" font-size="48.2" text-anchor="middle">Riming and freezing</text>
<text x="2319.5" y="4306.1" font-size="95" text-anchor="end" stroke="#000" stroke-width="0.6" style="font-family:'Liberation Sans', Arial, sans-serif">(h)</text>
</g>
</svg>
</body></html>
